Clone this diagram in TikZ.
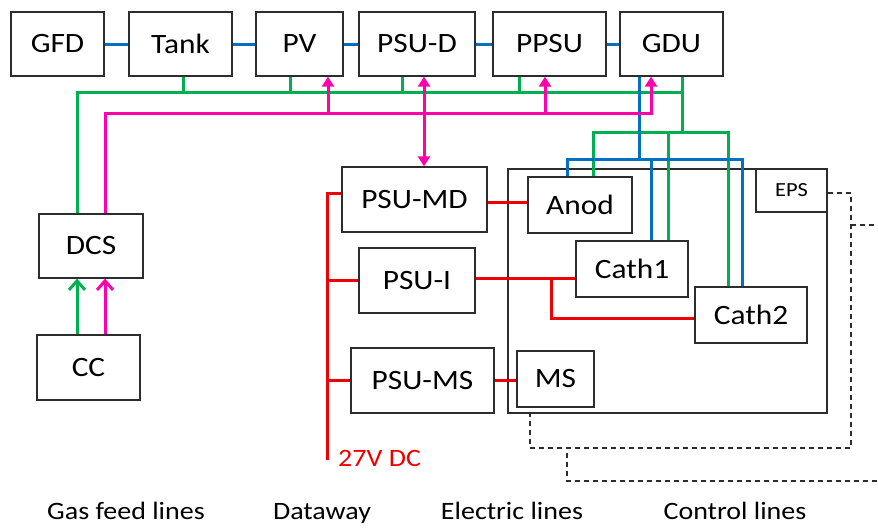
\documentclass[tikz,border=0pt]{standalone}
\usepackage{fontspec}
\setmainfont{Carlito}
\newfontfamily\cf[FakeStretch=1.12]{Carlito}
\usetikzlibrary{arrows.meta,calc}
\definecolor{gasc}{RGB}{0,176,80}
\definecolor{datac}{RGB}{0,112,192}
\definecolor{elecc}{RGB}{238,0,0}
\definecolor{ctlc}{RGB}{255,0,170}
\definecolor{boxc}{RGB}{45,45,45}
\begin{document}
\begin{tikzpicture}[x=1pt,y=-1pt,
  box/.style={draw=boxc, line width=1.3pt, inner sep=0pt, fill=white, font=\cf\fontsize{28}{30}\selectfont},
  gasline/.style={draw=gasc, line width=3pt},
  dataline/.style={draw=datac, line width=3pt},
  elecline/.style={draw=elecc, line width=3pt},
  ctlline/.style={draw=ctlc, line width=3pt},
  dashline/.style={draw=boxc, line width=1.3pt, dash pattern=on 5pt off 4pt},
  uptip/.style={-{Triangle[width=12pt,length=10pt]}},
  dbltip/.style={{Triangle[width=12pt,length=10pt]}-{Triangle[width=12pt,length=10pt]}},
  barb/.style={-{Straight Barb[width=16pt,length=9pt]}},
  legend/.style={font=\cf\fontsize{25}{27}\selectfont, inner sep=0pt}]
\useasboundingbox (0,0) rectangle (878,528);

% enclosure
\node[box, fill=none, minimum width=319pt, minimum height=244pt] (encl) at (667.5,291) {};

% top row
\node[box, minimum width=93pt, minimum height=64pt] (gfd) at (57.5,44) {GFD};
\node[box, minimum width=103pt, minimum height=64pt] (tank) at (180.5,44) {Tank};
\node[box, minimum width=87pt, minimum height=64pt] (pv) at (299.5,44) {PV};
\node[box, minimum width=116pt, minimum height=64pt] (psud) at (417,44) {PSU-D};
\node[box, minimum width=113pt, minimum height=64pt] (ppsu) at (549.5,44) {PPSU};
\node[box, minimum width=103pt, minimum height=64pt] (gdu) at (671.5,44) {GDU};

% left
\node[box, minimum width=104pt, minimum height=64pt] (dcs) at (91,246) {DCS};
\node[box, minimum width=103pt, minimum height=65pt] (cc) at (88.5,367.5) {CC};

% power supplies
\node[box, minimum width=145pt, minimum height=65pt] (psumd) at (414.5,199.5) {PSU-MD};
\node[box, minimum width=116pt, minimum height=65pt] (psui) at (417,280.5) {PSU-I};
\node[box, minimum width=143pt, minimum height=65pt] (psums) at (422.5,380.5) {PSU-MS};

% inside enclosure
\node[box, minimum width=71pt, minimum height=43pt, font=\cf\fontsize{20}{22}\selectfont] (eps) at (791.5,190.5) {EPS};
\node[box, minimum width=104pt, minimum height=56pt] (anod) at (580,205) {Anod};
\node[box, minimum width=112pt, minimum height=56pt] (cath1) at (632,269) {Cath1};
\node[box, minimum width=112pt, minimum height=56pt] (cath2) at (751,315) {Cath2};
\node[box, minimum width=77pt, minimum height=56pt] (ms) at (555.5,379) {MS};

% helper coordinates
\coordinate (gbR) at (682,92);
\coordinate (gj) at (682,132);
\coordinate (mbus) at (0,113);
\coordinate (bj) at (639,159);
\coordinate (rbot) at (327,460);
\coordinate (rj) at (551,278);
\coordinate (dR) at (851,448);
\coordinate (dE1) at (878,225);
\coordinate (dS) at (567,453);
\coordinate (dE2) at (878,481);

% dataway (blue) top row
\draw[dataline] (gfd.east) -- (tank.west);
\draw[dataline] (tank.east) -- (pv.west);
\draw[dataline] (pv.east) -- (psud.west);
\draw[dataline] (psud.east) -- (ppsu.west);
\draw[dataline] (ppsu.east) -- (gdu.west);

% gas feed (green)
\draw[gasline] ([xshift=-14pt]dcs.north) |- (gbR);
\draw[gasline] ([xshift=10.5pt]gdu.south) -- (gj);
\draw[gasline] ([xshift=2.5pt]tank.south) -- ++(0,16);
\draw[gasline] ([xshift=-9.5pt]pv.south) -- ++(0,16);
\draw[gasline] ([xshift=-15pt]psud.south) -- ++(0,16);
\draw[gasline] ([xshift=-30.5pt]ppsu.south) -- ++(0,16);
\draw[gasline] ([xshift=13pt]anod.north) |- ([xshift=-23pt]cath2.north |- gj) -- ([xshift=-23pt]cath2.north);
\draw[gasline] ([xshift=36pt]cath1.north) -- ([xshift=36pt]cath1.north |- gj);

% dataway (blue) from GDU
\draw[dataline] ([xshift=-32.5pt]gdu.south) -- (bj);
\draw[dataline] ([xshift=-13pt]anod.north) |- ([xshift=-9pt]cath2.north |- bj) -- ([xshift=-9pt]cath2.north);
\draw[dataline] ([xshift=19pt]cath1.north) -- ([xshift=19pt]cath1.north |- bj);

% control (magenta)
\draw[ctlline, uptip] ([xshift=14pt]dcs.north) |- ([xshift=-20.5pt]gdu.south |- mbus) -- ([xshift=-20.5pt]gdu.south);
\draw[ctlline, uptip] ([xshift=28.5pt]pv.south |- mbus) -- ([xshift=28.5pt]pv.south);
\draw[ctlline, dbltip] ([xshift=9.5pt]psumd.north) -- ([xshift=7pt]psud.south);
\draw[ctlline, uptip] ([xshift=-4.5pt]ppsu.south |- mbus) -- ([xshift=-4.5pt]ppsu.south);

% CC to DCS
\draw[gasline, barb] ([xshift=-11.5pt]cc.north) -- ([xshift=-14pt]dcs.south);
\draw[ctlline, barb] ([xshift=16.5pt]cc.north) -- ([xshift=14pt]dcs.south);

% electric (red)
\draw[elecline] ([yshift=6.5pt]psumd.west) -| (rbot);
\draw[elecline] (psui.west) -- (psui.west -| rbot);
\draw[elecline] (psums.west) -- (psums.west -| rbot);
\draw[elecline] ([yshift=-2.5pt]psumd.east) -- ([yshift=-2.5pt]psumd.east -| anod.west);
\draw[elecline] ([yshift=2.5pt]psui.east) -- ([yshift=2.5pt]psui.east -| cath1.west);
\draw[elecline] (rj) |- ([yshift=-3pt]cath2.west);
\draw[elecline] (psums.east) -- (psums.east -| ms.west);
\node[legend, anchor=base west, text=elecc] (v27) at (338,466) {27V DC};

% dashed lines
\draw[dashline] ([yshift=-2.5pt]eps.east) -| (dR) -| ([xshift=-137.5pt]encl.south);
\draw[dashline] (dR |- dE1) -- (dE1);
\draw[dashline] (dS) |- (dE2);

% legend
\node[legend, anchor=base] (lg1) at (126,519) {Gas feed lines};
\node[legend, anchor=base] (lg2) at (322,519) {Dataway};
\node[legend, anchor=base] (lg3) at (512,519) {Electric lines};
\node[legend, anchor=base] (lg4) at (735,519) {Control lines};
\end{tikzpicture}
\end{document}
